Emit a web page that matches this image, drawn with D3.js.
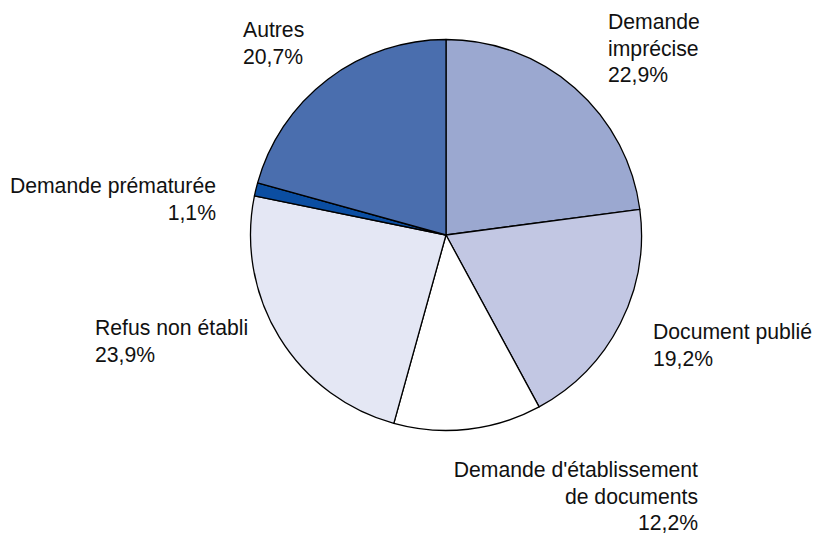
<!DOCTYPE html>
<html lang="fr">
<head>
  <meta charset="UTF-8" />
  <title>Motifs de refus</title>
  <script src="https://d3js.org/d3.v7.min.js"></script>
  <style>
    html, body {
      margin: 0;
      padding: 0;
      width: 100%;
      height: 100%;
      overflow: hidden;
      background: #ffffff;
    }
    svg { display: block; }
    .slice {
      stroke: #000;
      stroke-width: 1.3px;
      stroke-linejoin: round;
    }
    .label {
      font-family: 'Liberation Sans', Arial, sans-serif;
      font-size: 21.2px;
      fill: #111;
    }
  </style>
</head>
<body>
<svg></svg>
<script>
const width = 813;
const height = 534;

// categories, clockwise from 12 o'clock
const categories = [
  "Demande imprécise",
  "Document publié",
  "Demande d'établissement de documents",
  "Refus non établi",
  "Demande prématurée",
  "Autres"
];
const values = [22.9, 19.2, 12.2, 23.9, 1.1, 20.7];
const valueLabels = ["22,9%", "19,2%", "12,2%", "23,9%", "1,1%", "20,7%"];
const colors = ["#9ba8d0", "#c2c7e3", "#ffffff", "#e4e7f4", "#0b4ea2", "#4a6eae"];

// text lines of each label, and where each label block sits
const labelLines = [
  ["Demande", "imprécise"],
  ["Document publié"],
  ["Demande d'établissement", "de documents"],
  ["Refus non établi"],
  ["Demande prématurée"],
  ["Autres"]
];
const labelLayout = [
  { x: 608, y: 29, anchor: "start" },
  { x: 653, y: 339, anchor: "start" },
  { x: 698, y: 477, anchor: "end" },
  { x: 95, y: 335, anchor: "start" },
  { x: 216, y: 193, anchor: "end" },
  { x: 243, y: 37, anchor: "start" }
];
const lineHeight = 26.5;

const cx = 446, cy = 235, radius = 195.5;

const svg = d3.select("svg")
  .attr("width", width)
  .attr("height", height);

const data = categories.map((c, i) => ({ name: c, value: values[i], i }));

const pie = d3.pie()
  .value(d => d.value)
  .sort(null);

const arc = d3.arc()
  .innerRadius(0)
  .outerRadius(radius);

const g = svg.append("g")
  .attr("transform", `translate(${cx},${cy})`);

g.selectAll("path.slice")
  .data(pie(data))
  .enter()
  .append("path")
  .attr("class", "slice")
  .attr("fill", d => colors[d.data.i])
  .attr("d", arc);

const labels = svg.selectAll("text.label")
  .data(data)
  .enter()
  .append("text")
  .attr("class", "label")
  .attr("text-anchor", d => labelLayout[d.i].anchor)
  .attr("x", d => labelLayout[d.i].x)
  .attr("y", d => labelLayout[d.i].y);

labels.each(function(d) {
  const t = d3.select(this);
  const lines = labelLines[d.i].concat([valueLabels[d.i]]);
  lines.forEach((line, k) => {
    t.append("tspan")
      .attr("x", labelLayout[d.i].x)
      .attr("dy", k === 0 ? 0 : lineHeight)
      .text(line);
  });
});
</script>
</body>
</html>
